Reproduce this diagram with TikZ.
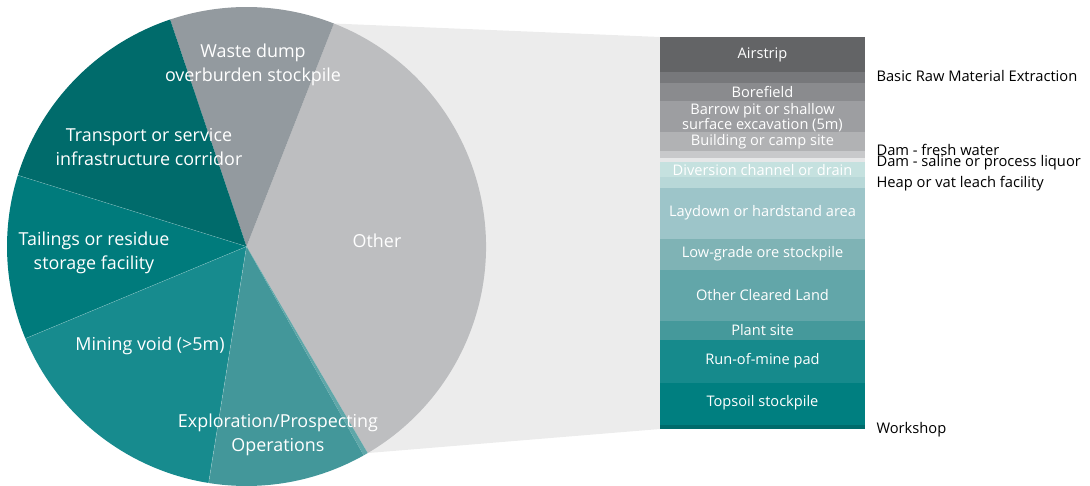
\documentclass[tikz,border=0pt]{standalone}
\usepackage{fontspec}
\setmainfont{Open Sans}
\usetikzlibrary{calc}

\definecolor{otherc}{HTML}{BDBEC0}
\definecolor{wastec}{HTML}{939A9F}
\definecolor{transc}{HTML}{006B6B}
\definecolor{tailc}{HTML}{007B7C}
\definecolor{minec}{HTML}{178B8E}
\definecolor{explc}{HTML}{43979A}
\definecolor{linkc}{HTML}{ECECEC}
\definecolor{airc}{HTML}{636466}
\definecolor{rawc}{HTML}{77787B}
\definecolor{borec}{HTML}{8A8B8E}
\definecolor{barrowc}{HTML}{9D9EA1}
\definecolor{buildc}{HTML}{B1B2B4}
\definecolor{damfc}{HTML}{C8C9CB}
\definecolor{damsc}{HTML}{E6E7E8}
\definecolor{divc}{HTML}{C5E1DF}
\definecolor{heapc}{HTML}{B8D8D8}
\definecolor{layc}{HTML}{9DC5C9}
\definecolor{lowc}{HTML}{7FB3B5}
\definecolor{clearc}{HTML}{62A6A9}
\definecolor{plantc}{HTML}{45999B}
\definecolor{romc}{HTML}{168A8C}
\definecolor{topc}{HTML}{007F80}
\definecolor{workc}{HTML}{006B6B}

\tikzset{
  pielabel/.style={text=white, font=\fontsize{17.9}{24}\selectfont, align=center},
  barlabel/.style={text=white, font=\fontsize{14.6}{15}\selectfont, align=center},
  sidelabel/.style={anchor=west, font=\fontsize{14.7}{15}\selectfont},
  seam/.style={white, opacity=0.35, line width=0.4pt}
}

\begin{document}
\begin{tikzpicture}[x=1pt,y=-1pt]
    \useasboundingbox (0,0) rectangle (1090,486);
    \coordinate (C) at (246.5,246.5);
    \coordinate (T) at ($(C)+(-68.6:239.5)$);
    \coordinate (U) at ($(C)+(59.6:239.5)$);
    \coordinate (BT) at (660,37);
    \coordinate (BB) at (660,429);
    \fill[linkc] (T) -- (BT) -- (BB) -- (U) -- (C) -- cycle;
    \fill[otherc] (C) -- (T) arc (-68.6:59.6:239.5) -- cycle;
    \fill[wastec] (C) -- ++(-108.6:239.5) arc (-108.6:-68.6:239.5) -- cycle;
    \fill[transc] (C) -- ++(-162.7:239.5) arc (-162.7:-108.6:239.5) -- cycle;
    \fill[tailc] (C) -- ++(-202.6:239.5) arc (-202.6:-162.7:239.5) -- cycle;
    \fill[minec] (C) -- ++(-260.9:239.5) arc (-260.9:-202.6:239.5) -- cycle;
    \fill[explc] (C) -- ++(-299.3:239.5) arc (-299.3:-260.9:239.5) -- cycle;
    \fill[explc!85!white] (C) -- ++(-300.4:239.5) arc (-300.4:-299.3:239.5) -- cycle;
    \draw[seam] (C) -- ++(-162.7:239.5);
    \draw[seam] (C) -- ++(-202.6:239.5);
    \draw[seam] (C) -- ++(-260.9:239.5);
    \node[pielabel] at (253,65) {Waste dump\\overburden stockpile};
    \node[pielabel] at (149,147) {Transport or service\\infrastructure corridor};
    \node[pielabel] at (94,253) {Tailings or residue\\storage facility};
    \node[pielabel] at (150,346) {Mining void (>5m)};
    \node[pielabel] at (278,435) {Exploration/Prospecting\\Operations};
    \node[pielabel] at (377,241) {Other};
    \fill[airc] (660,37) rectangle (865,71.7);
    \fill[rawc] (660,71.7) rectangle (865,82.7);
    \fill[borec] (660,82.7) rectangle (865,100.7);
    \fill[barrowc] (660,100.7) rectangle (865,131.7);
    \fill[buildc] (660,131.7) rectangle (865,151);
    \fill[damfc] (660,151) rectangle (865,157.7);
    \fill[damsc] (660,157.7) rectangle (865,162.3);
    \fill[divc] (660,162.3) rectangle (865,176.7);
    \fill[heapc] (660,176.7) rectangle (865,188.3);
    \fill[layc] (660,188.3) rectangle (865,239);
    \fill[lowc] (660,239) rectangle (865,270);
    \fill[clearc] (660,270) rectangle (865,321);
    \fill[plantc] (660,321) rectangle (865,340);
    \fill[romc] (660,340) rectangle (865,382.7);
    \fill[topc] (660,382.7) rectangle (865,425);
    \fill[workc] (660,425) rectangle (865,429);
    \node[barlabel] at (762.5,55) {Airstrip};
    \node[barlabel] at (762.5,92) {Borefield};
    \node[barlabel] at (762.5,117.5) {Barrow pit or shallow\\surface excavation (5m)};
    \node[barlabel] at (762.5,142) {Building or camp site};
    \node[barlabel] at (762.5,170) {Diversion channel or drain};
    \node[barlabel] at (762.5,213) {Laydown or hardstand area};
    \node[barlabel] at (762.5,254) {Low-grade ore stockpile};
    \node[barlabel] at (762.5,295) {Other Cleared Land};
    \node[barlabel] at (762.5,330) {Plant site};
    \node[barlabel] at (762.5,361) {Run-of-mine pad};
    \node[barlabel] at (762.5,403) {Topsoil stockpile};
    \node[sidelabel] at (873,76) {Basic Raw Material Extraction};
    \node[sidelabel] at (873,150) {Dam - fresh water};
    \node[sidelabel] at (873,162.5) {Dam - saline or process liquor};
    \node[sidelabel] at (873,184) {Heap or vat leach facility};
    \node[sidelabel] at (873,430) {Workshop};
\end{tikzpicture}
\end{document}
